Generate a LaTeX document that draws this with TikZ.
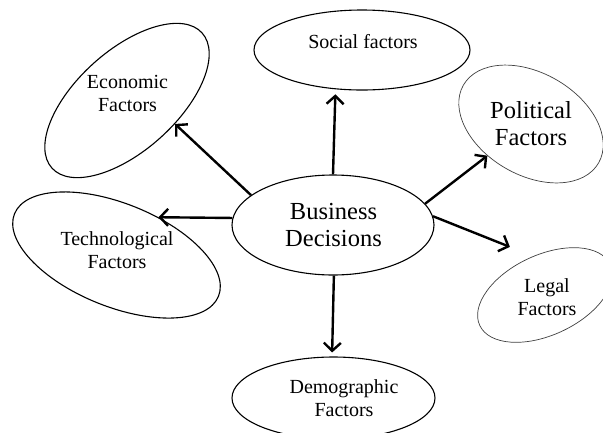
\documentclass[tikz,border=0pt]{standalone}
\usepackage{fontspec}
\setmainfont{Liberation Serif}
\usetikzlibrary{arrows.meta,shapes.geometric}

\begin{document}
\begin{tikzpicture}[x=1pt,y=-1pt,
	oval/.style={ellipse,draw,line width=1.1pt,inner sep=0pt},
	thin oval/.style={oval,line width=0.7pt,draw=black!75},
	txt/.style={align=center,font=\fontsize{20}{23}\selectfont},
	bigtxt/.style={align=center,font=\fontsize{24.5}{27}\selectfont},
	arr/.style={line width=2.4pt,-{Straight Barb[length=8pt,width=17pt]}}]
	\useasboundingbox (0,0) rectangle (603,432);
	% ellipses
	\node[oval,minimum width=202pt,minimum height=100pt] (bus) at (333,225) {};
	\node[oval,minimum width=216pt,minimum height=80pt] (soc) at (362,50) {};
	\node[oval,minimum width=202pt,minimum height=100pt,rotate=42] (eco) at (127,100.5) {};
	\node[thin oval,minimum width=156pt,minimum height=102pt,rotate=-30] (pol) at (531,124) {};
	\node[oval,minimum width=220pt,minimum height=103pt,rotate=-22] (tec) at (116.5,255) {};
	\node[thin oval,minimum width=144pt,minimum height=80pt,rotate=25] (leg) at (545,295) {};
	\node[oval,minimum width=203pt,minimum height=82pt] (dem) at (333.5,398) {};
	% labels
	\node[bigtxt] (bus-t) at (333.5,225) {Business\\Decisions};
	\node[txt] (soc-t) at (363,42) {Social factors};
	\node[txt] (eco-t) at (127.5,93.5) {Economic\\Factors};
	\node[bigtxt] (pol-t) at (531,124) {Political\\Factors};
	\node[txt] (tec-t) at (117,250.5) {Technological\\Factors};
	\node[txt] (leg-t) at (547,297.5) {Legal\\Factors};
	\node[txt] (dem-t) at (344,398) {Demographic\\Factors};
	% arrows
	\draw[arr,shorten >=5pt] (bus.north) -- (soc.236);
	\draw[arr] (bus.160) -- (eco.-68);
	\draw[arr] (bus.176) -- (tec.64);
	\draw[arr] (bus.13) -- (pol.246);
	\draw[arr,shorten >=25pt] (bus.5) -- (leg.82);
	\draw[arr,shorten >=4pt] (bus.-89) -- (dem.92);
\end{tikzpicture}
\end{document}
